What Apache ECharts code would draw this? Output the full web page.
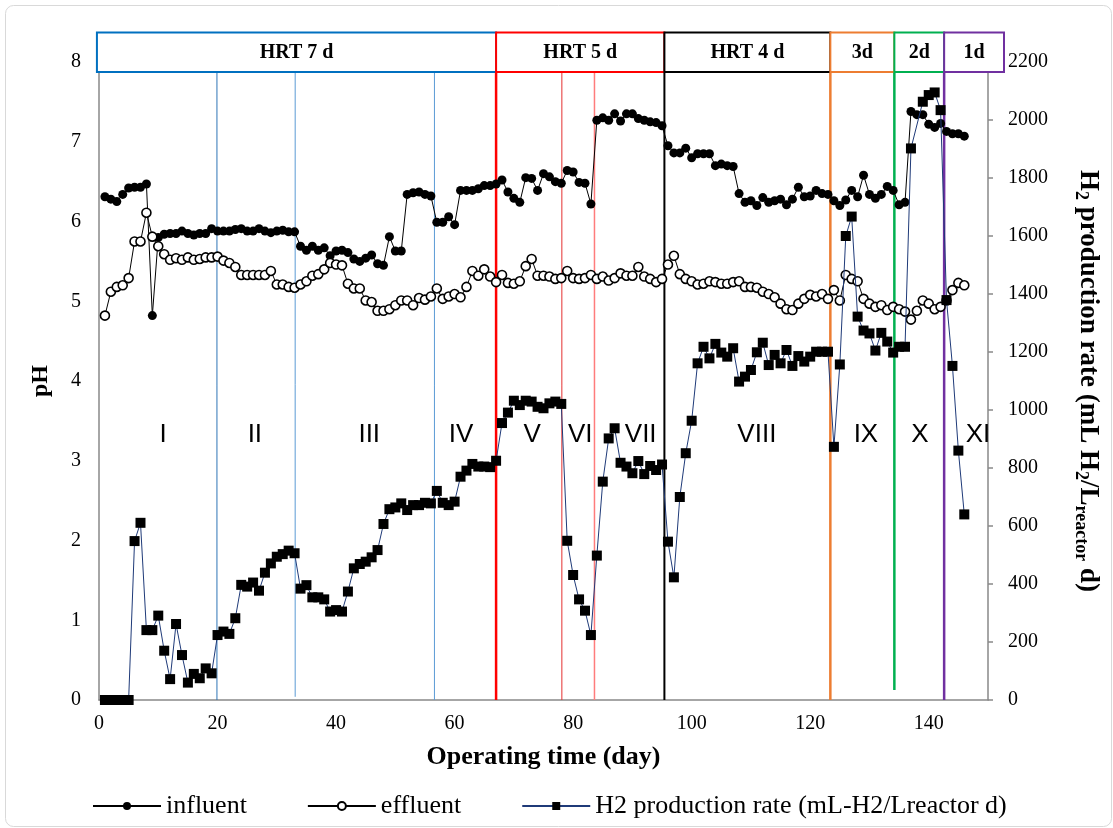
<!DOCTYPE html>
<html><head><meta charset="utf-8">
<script src="https://cdn.jsdelivr.net/npm/echarts@6/dist/echarts.min.js"></script>
<style>html,body{margin:0;padding:0;background:#fff}#c{width:1113px;height:828px}</style>
</head><body><div id="c"></div>
<script>
// ---------------- DATA ----------------
const days = [1,2,3,4,5,6,7,8,9,10,11,12,13,14,15,16,17,18,19,20,21,22,23,24,25,26,27,28,29,30,
31,32,33,34,35,36,37,38,39,40,41,42,43,44,45,46,47,48,49,50,51,52,53,54,55,56,57,58,59,60,
61,62,63,64,65,66,67,68,69,70,71,72,73,74,75,76,77,78,79,80,81,82,83,84,85,86,87,88,89,90,
91,92,93,94,95,96,97,98,99,100,101,102,103,104,105,106,107,108,109,110,111,112,113,114,115,116,117,118,119,120,
121,122,123,124,125,126,127,128,129,130,131,132,133,134,135,136,137,138,139,140,141,142,143,144,145,146];

const influent = [
6.31,6.28,6.25,6.34,6.42,6.43,6.43,6.47,4.82,5.80,
5.84,5.85,5.85,5.88,5.85,5.83,5.85,5.85,5.91,5.88,
5.88,5.88,5.90,5.91,5.88,5.88,5.91,5.88,5.86,5.88,
5.89,5.87,5.87,5.69,5.64,5.69,5.64,5.67,5.57,5.63,
5.64,5.61,5.53,5.50,5.54,5.58,5.47,5.45,5.81,5.63,
5.63,6.34,6.36,6.37,6.34,6.32,5.99,5.99,6.06,5.96,
6.39,6.39,6.39,6.41,6.45,6.45,6.47,6.52,6.37,6.29,
6.24,6.55,6.54,6.39,6.60,6.56,6.50,6.48,6.64,6.62,
6.49,6.48,6.22,7.27,7.30,7.27,7.35,7.26,7.35,7.35,
7.29,7.27,7.25,7.24,7.20,6.95,6.86,6.86,6.92,6.80,
6.85,6.85,6.85,6.70,6.72,6.70,6.69,6.35,6.24,6.26,
6.20,6.30,6.24,6.26,6.28,6.21,6.28,6.43,6.31,6.32,
6.39,6.35,6.34,6.26,6.20,6.27,6.39,6.31,6.58,6.34,
6.29,6.34,6.44,6.39,6.21,6.24,7.38,7.34,7.34,7.22,
7.18,7.23,7.13,7.10,7.10,7.07];

const effluent = [
4.82,5.12,5.18,5.20,5.29,5.75,5.75,6.11,5.81,5.69,
5.59,5.52,5.54,5.52,5.55,5.52,5.53,5.55,5.55,5.56,
5.51,5.48,5.43,5.33,5.33,5.33,5.33,5.33,5.38,5.21,
5.21,5.18,5.17,5.21,5.25,5.32,5.34,5.40,5.48,5.46,
5.45,5.22,5.16,5.16,5.01,4.99,4.88,4.88,4.90,4.95,
5.01,5.01,4.95,5.04,5.02,5.06,5.16,5.03,5.06,5.09,
5.05,5.18,5.38,5.32,5.40,5.31,5.24,5.33,5.23,5.22,
5.25,5.44,5.53,5.32,5.32,5.31,5.28,5.29,5.38,5.29,
5.28,5.29,5.33,5.28,5.31,5.26,5.29,5.35,5.32,5.32,
5.43,5.31,5.28,5.24,5.28,5.46,5.57,5.34,5.28,5.25,
5.21,5.22,5.25,5.24,5.22,5.22,5.24,5.25,5.18,5.18,
5.17,5.12,5.09,5.05,4.97,4.90,4.89,4.97,5.03,5.08,
5.06,5.09,5.03,5.14,5.01,5.33,5.28,5.25,5.03,4.97,
4.93,4.95,4.89,4.93,4.90,4.87,4.77,4.88,5.01,4.97,
4.90,4.93,5.01,5.14,5.23,5.20];

const h2Rate = [
0,0,0,0,0,548,611,241,241,291,
170,72,262,155,60,90,75,109,92,224,
236,228,282,397,391,405,377,439,471,494,
503,515,506,384,396,354,354,347,305,310,
305,374,454,469,477,492,517,607,658,664,
678,655,672,672,680,678,721,680,672,684,
770,791,814,805,805,803,825,955,991,1032,
1017,1032,1029,1011,1006,1023,1029,1021,549,431,
347,308,224,498,753,902,937,818,805,782,
824,779,807,793,812,546,423,700,851,963,
1161,1218,1178,1228,1198,1184,1213,1098,1115,1138,
1199,1232,1155,1190,1161,1207,1152,1186,1167,1184,
1201,1201,1201,873,1157,1600,1667,1322,1274,1264,
1205,1266,1236,1198,1218,1218,1902,null,2063,2086,
2095,2034,1379,1152,860,640];

const seriesNames = ['influent','effluent','H2 production rate (mL-H2/Lreactor d)'];

// HRT periods (day boundaries) and labels
const hrtBounds = [-0.35, 67.0, 95.4, 123.4, 134.2, 142.6, 152.7];
const hrtLabels = ['HRT 7 d','HRT 5 d','HRT 4 d','3d','2d','1d'];

// vertical separator lines (day)
const periodLines = [19.9, 33.1, 56.6, 67.0, 78.1, 83.6, 95.4, 123.4, 134.2, 142.6];

// phase labels and their day positions
const phaseLabels = ['I','II','III','IV','V','VI','VII','VIII','IX','X','XI'];
const phaseDays = [10.8, 26.3, 45.6, 61.1, 73.1, 81.2, 91.4, 111.0, 129.4, 138.5, 148.3];

// ---------------- STYLES ----------------
const boxColors = ['#0070C0','#FF0000','#000000','#ED7D31','#00B050','#7030A0'];
const lineStyles = [
  {c:'#2E75B6', w:1, bottom:0}, {c:'#5B9BD5', w:1, bottom:0.04}, {c:'#5B9BD5', w:1, bottom:0},
  {c:'#FF0000', w:2.5, bottom:0}, {c:'#E53030', w:1, bottom:0}, {c:'#FF7C7C', w:1.5, bottom:0},
  {c:'#000000', w:2, bottom:0}, {c:'#ED7D31', w:2.5, bottom:0}, {c:'#00B050', w:2.5, bottom:0.125},
  {c:'#7030A0', w:2.5, bottom:0}
];
const boxTopPH = 8.37, boxBottomPH = 7.876, phaseY = 3.33;
const serif = '"Liberation Serif", "Times New Roman", serif';

const pair = arr => days.map((d, i) => [d, arr[i]]);

const chart = echarts.init(document.getElementById('c'));
chart.setOption({
  animation: false,
  backgroundColor: '#fff',
  graphic: [{type:'rect', left:3, top:3, shape:{width:1106, height:821, r:8}, style:{fill:'none', stroke:'#d9d9d9', lineWidth:1}, silent:true}],
  grid: {left: 99, right: 125, top: 62, bottom: 128, containLabel: false},
  legend: {
    data: seriesNames, left: 87, top: 788, itemWidth: 68, itemHeight: 10, itemGap: 60,
    textStyle: {fontFamily: serif, fontSize: 26, color: '#000'}
  },
  xAxis: {
    type: 'value', min: 0, max: 150, interval: 20,
    name: 'Operating time (day)', nameLocation: 'middle', nameGap: 44,
    nameTextStyle: {fontFamily: serif, fontSize: 26, fontWeight: 'bold', color: '#000'},
    axisLine: {lineStyle: {color: '#898989', width: 1.5}},
    axisTick: {show: false},
    axisLabel: {fontFamily: serif, fontSize: 20, color: '#000', margin: 14, showMaxLabel: false},
    splitLine: {show: false}
  },
  yAxis: [{
    type: 'value', min: 0, max: 8, interval: 1, position: 'left',
    name: 'pH', nameLocation: 'middle', nameGap: 46,
    nameTextStyle: {fontFamily: serif, fontSize: 24, fontWeight: 'bold', color: '#000'},
    axisLine: {show: true, lineStyle: {color: '#898989', width: 1.5}},
    axisTick: {show: false},
    axisLabel: {fontFamily: serif, fontSize: 20, color: '#000', margin: 18},
    splitLine: {show: false}
  }, {
    type: 'value', min: 0, max: 2200, interval: 200, position: 'right',
    name: '{n|H}{s|2}{n| production rate (mL H}{s|2}{n|/L}{s|reactor}{n| d)}',
    nameLocation: 'middle', nameGap: 84, nameRotate: -90,
    nameTextStyle: {
      rich: {
        n: {fontFamily: serif, fontSize: 27, fontWeight: 'bold', color: '#000', lineHeight: 32},
        s: {fontFamily: serif, fontSize: 18, fontWeight: 'bold', color: '#000', verticalAlign: 'bottom', lineHeight: 20}
      }
    },
    axisLine: {show: true, lineStyle: {color: '#898989', width: 1.5}},
    axisTick: {show: true, inside: false, length: 5, lineStyle: {color: '#898989', width: 1.5}},
    axisLabel: {fontFamily: serif, fontSize: 20, color: '#000', margin: 20, formatter: v => String(v)},
    splitLine: {show: false}
  }],
  series: [
    {
      type: 'custom', name: 'periodLines', silent: true, clip: false, z: 1,
      data: periodLines.map(d => [d, boxBottomPH]),
      renderItem: (params, api) => {
        const st = lineStyles[params.dataIndex];
        const top = api.coord([api.value(0), boxBottomPH]);
        const bot = api.coord([api.value(0), st.bottom]);
        return {type: 'line', shape: {x1: top[0], y1: top[1], x2: bot[0], y2: bot[1]},
                style: {stroke: st.c, lineWidth: st.w}};
      }
    },
    {
      type: 'custom', name: 'phases', silent: true, clip: false, z: 1,
      data: phaseDays.map(d => [d, phaseY]),
      renderItem: (params, api) => {
        const p = api.coord([api.value(0), api.value(1)]);
        return {type: 'text', style: {text: phaseLabels[params.dataIndex], x: p[0], y: p[1],
                align: 'center', verticalAlign: 'middle',
                font: '26px "Liberation Sans", Arial, sans-serif', fill: '#000'}};
      }
    },
    {
      name: seriesNames[0], type: 'line', yAxisIndex: 0, data: pair(influent), z: 3,
      symbol: 'circle', symbolSize: 9, showSymbol: true, showAllSymbol: true,
      itemStyle: {color: '#000'}, lineStyle: {color: '#000', width: 1}
    },
    {
      name: seriesNames[1], type: 'line', yAxisIndex: 0, data: pair(effluent), z: 3,
      symbol: 'circle', symbolSize: 9, showSymbol: true, showAllSymbol: true,
      itemStyle: {color: '#fff', borderColor: '#000', borderWidth: 1.6}, lineStyle: {color: '#000', width: 1}
    },
    {
      name: seriesNames[2], type: 'line', yAxisIndex: 1, data: pair(h2Rate), z: 4, connectNulls: true,
      symbol: 'rect', symbolSize: 10, showSymbol: true, showAllSymbol: true,
      itemStyle: {color: '#000'}, lineStyle: {color: '#1F3A78', width: 1}
    },
    {
      type: 'custom', name: 'hrtBoxes', silent: true, clip: false, z: 6,
      data: hrtLabels.map((l, i) => [hrtBounds[i], hrtBounds[i + 1]]),
      renderItem: (params, api) => {
        const i = params.dataIndex;
        const a = api.coord([api.value(0), boxTopPH]);
        const b = api.coord([api.value(1), boxBottomPH]);
        return {type: 'group', children: [
          {type: 'rect', shape: {x: a[0], y: a[1], width: b[0] - a[0], height: b[1] - a[1]},
           style: {fill: '#fff', stroke: boxColors[i], lineWidth: 2}},
          {type: 'text', style: {text: hrtLabels[i], x: (a[0] + b[0]) / 2, y: (a[1] + b[1]) / 2 + 1,
           align: 'center', verticalAlign: 'middle', font: 'bold 20px "Liberation Serif", serif', fill: '#000'}}
        ]};
      }
    }
  ]
});
</script></body></html>
